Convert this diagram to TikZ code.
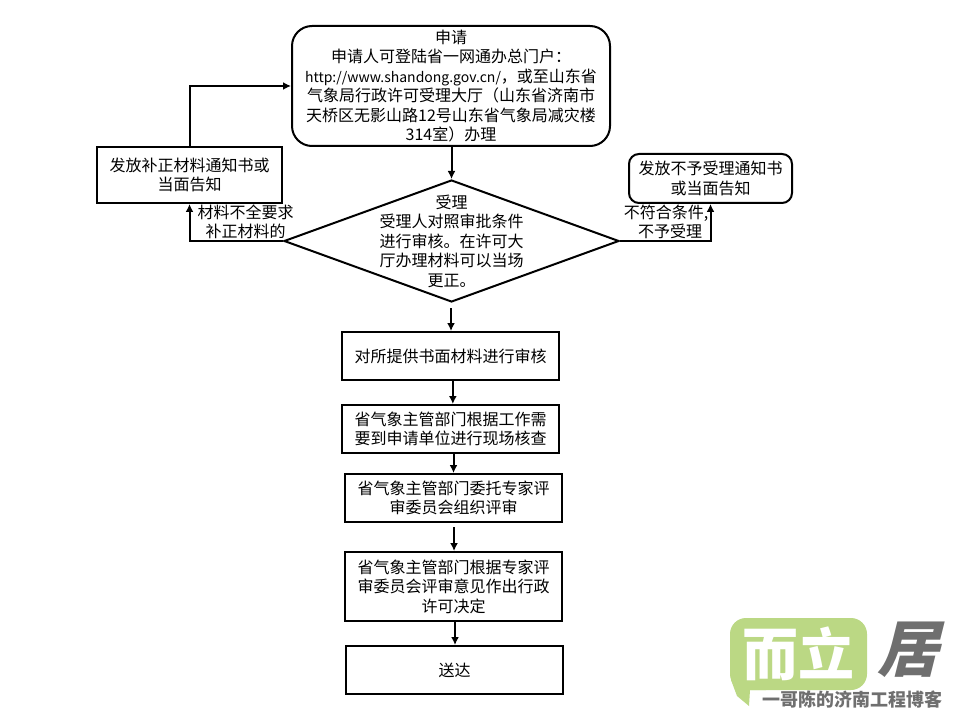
\documentclass[tikz,border=0pt]{standalone}
\usepackage{fontspec}
\usepackage{xcolor}
\usetikzlibrary{shapes.geometric, arrows.meta}
\newfontfamily\cjk{Noto Sans CJK SC}
\newfontfamily\cjkslant[FakeSlant=0.25]{Noto Sans CJK SC}
\definecolor{logogreen}{HTML}{BBD884}
\definecolor{logogray}{HTML}{6F6F6F}
\tikzset{
  cnfont/.style={font=\cjk\fontsize{12}{14.6}\selectfont, align=center},
  flowbox/.style={draw, line width=1.5pt, inner sep=0pt},
  flowline/.style={line width=1.5pt, -{Latex[length=6pt, width=6pt]}},
}
\begin{document}
\begin{tikzpicture}[x=0.75pt, y=-0.75pt]
\useasboundingbox (0, 0) rectangle (960, 720);
% 框
\node [flowbox, cnfont, rounded corners=15pt, minimum width=238.5pt, minimum height=90pt] (apply) at (451, 86) {};
\node [flowbox, minimum width=138.75pt, minimum height=42pt] (fix) at (189.5, 175) {};
\node [flowbox, rounded corners=7.5pt, minimum width=122.25pt, minimum height=36.75pt] (refuse) at (710.5, 178.5) {};
\node [flowbox, diamond, minimum width=251.25pt, minimum height=91.5pt] (accept) at (451.5, 241) {};
\node [flowbox, minimum width=162.75pt, minimum height=36pt] (review) at (450.5, 356) {};
\node [flowbox, minimum width=162.75pt, minimum height=36pt] (check) at (450.5, 429) {};
\node [flowbox, minimum width=162.75pt, minimum height=36pt] (expert) at (453.5, 498) {};
\node [flowbox, minimum width=162.75pt, minimum height=51.75pt] (decide) at (453.5, 586.5) {};
\node [flowbox, minimum width=162.75pt, minimum height=36pt] (deliver) at (454.5, 670) {};
% 箭头
\draw [flowline] ([xshift=0.375pt]apply.south) -- (accept.north);
\draw [flowline, shorten <=4pt] ([xshift=-0.375pt]accept.south) -- ([xshift=0.375pt]review.north);
\draw [flowline] ([xshift=1.75pt]review.south) -- ([xshift=1.75pt]check.north);
\draw [flowline] ([xshift=2.25pt]check.south) -- (expert.north);
\draw [flowline, shorten <=3pt] ([xshift=0.4pt]expert.south) -- ([xshift=0.4pt]decide.north);
\draw [flowline] ([xshift=1.125pt]decide.south) -- ([xshift=0.375pt]deliver.north);
\draw [flowline] (accept.west) -| (fix.south);
\draw [flowline] (fix.north) |- (apply.west);
\draw [flowline] (accept.east) -| (refuse.south);
% 文字
\node [cnfont] (applytext) at (451, 86) {申请\\申请人可登陆省一网通办总门户：\\{\fontsize{10.5}{14.6}\selectfont http://www.shandong.gov.cn/}，或至山东省\\气象局行政许可受理大厅（山东省济南市\\天桥区无影山路12号山东省气象局减灾楼\\314室）办理};
\node [cnfont] (fixtext) at (189.5, 175) {发放补正材料通知书或\\当面告知};
\node [cnfont] (refusetext) at (710.5, 178.5) {发放不予受理通知书\\或当面告知};
\node [cnfont] (accepttext) at (451.5, 241) {受理\\受理人对照审批条件\\进行审核。在许可大\\厅办理材料可以当场\\更正。};
\node [cnfont] (reviewtext) at (450.5, 356) {对所提供书面材料进行审核};
\node [cnfont] (checktext) at (450.5, 429) {省气象主管部门根据工作需\\要到申请单位进行现场核查};
\node [cnfont] (experttext) at (453.5, 498) {省气象主管部门委托专家评\\审委员会组织评审};
\node [cnfont] (decidetext) at (453.5, 586.5) {省气象主管部门根据专家评\\审委员会评审意见作出行政\\许可决定};
\node [cnfont] (delivertext) at (454.5, 670) {送达};
\node [cnfont] (lackleft) at (245.5, 222) {材料不全要求\\补正材料的};
\node [cnfont] (lackright) at (666, 222) {不符合条件,\\\hspace*{6pt}不予受理};
% 水印
\fill [logogreen, rounded corners=12pt] (730, 618) -- (867, 618) -- (867, 690) -- (730, 690) -- cycle;
\fill [logogreen] (731, 670) -- (766, 690) -- (750, 690) -- (749, 706) -- (737, 696) -- (731, 680) -- cycle;
\node [font=\cjk\bfseries\fontsize{42}{42}\selectfont, text=white, inner sep=0pt] (logoname) at (798, 654) {而立};
\node [font=\cjkslant\bfseries\fontsize{46}{46}\selectfont, text=logogray, inner sep=0pt] (logoju) at (908, 650) {居};
\node [font=\cjk\bfseries\fontsize{13.5}{13.5}\selectfont, text=logogray, inner sep=0pt] (logoblog) at (852, 700) {一哥陈的济南工程博客};
\end{tikzpicture}
\end{document}
